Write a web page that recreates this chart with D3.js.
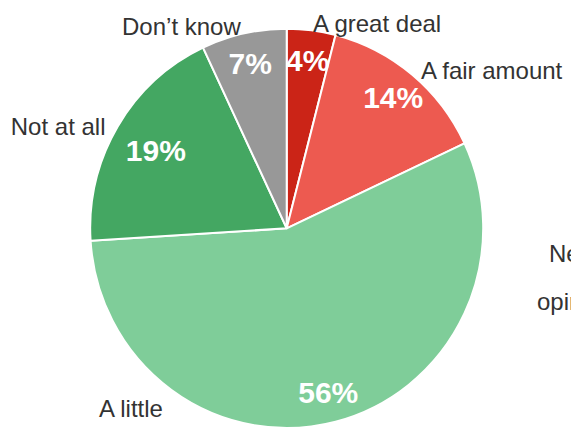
<!DOCTYPE html>
<html>
<head>
<meta charset="utf-8">
<script src="https://cdn.jsdelivr.net/npm/d3@7"></script>
<style>
  html, body { margin: 0; padding: 0; background: #fff; overflow: hidden; }
  svg { display: block; font-family: "Liberation Sans", Arial, Helvetica, sans-serif; }
</style>
</head>
<body>
<svg id="chart" width="571" height="430"></svg>
<script>
// Survey answers, clockwise from 12 o'clock
const categories = ["A great deal", "A fair amount", "A little", "Not at all", "Don\u2019t know"];
const shares = [4, 14, 56, 19, 7];
const colors = ["#cb2417", "#ed5a50", "#7fcd99", "#44a762", "#989898"];

// Side caption lines (continue past the right edge)
const captionLines = ["Net", "opinion"];

const width = 571, height = 430;
const cx = 286.7, cy = 228.3;
const R = 196.5;
const yStretch = 1.016;

const svg = d3.select("#chart");

const data = categories.map((c, i) => ({ label: c, value: shares[i], color: colors[i] }));

const pie = d3.pie().value(d => d.value).sort(null);
const arcs = pie(data);

const arc = d3.arc().innerRadius(0).outerRadius(R);

// slices
const slices = svg.append("g")
  .attr("transform", `translate(${cx},${cy}) scale(1,${yStretch})`);

slices.selectAll("path")
  .data(arcs)
  .join("path")
  .attr("d", arc)
  .attr("fill", d => d.data.color)
  .attr("stroke", "#fff")
  .attr("stroke-width", 2)
  .attr("stroke-linejoin", "round");

// point on the pie at a given angle (radians, clockwise from top) and radius
function polar(angle, r) {
  return [cx + r * Math.sin(angle), cy - r * Math.cos(angle) * yStretch];
}

// percentage labels inside the slices
const pctRadius = { "Not at all": 152 };
svg.append("g").selectAll("text")
  .data(arcs)
  .join("text")
  .attr("transform", d => {
    const a = (d.startAngle + d.endAngle) / 2;
    const [x, y] = polar(a, pctRadius[d.data.label] || 167);
    return `translate(${x},${y})`;
  })
  .attr("text-anchor", "middle")
  .attr("dy", "0.36em")
  .attr("fill", "#fff")
  .attr("font-weight", "bold")
  .attr("font-size", 30)
  .text(d => d.data.value + "%");

// category labels outside the pie
const angleOverride = { "A little": 216 * Math.PI / 180 };
svg.append("g").selectAll("text")
  .data(arcs)
  .join("text")
  .each(function (d) {
    const a = angleOverride[d.data.label] !== undefined
      ? angleOverride[d.data.label]
      : (d.startAngle + d.endAngle) / 2;
    const [x, y] = polar(a, R + 14);
    const right = Math.sin(a) >= 0;
    d3.select(this)
      .attr("x", x)
      .attr("y", y + 15.5)
      .attr("text-anchor", right ? "start" : "end");
  })
  .attr("fill", "#333")
  .attr("font-size", 24)
  .text(d => d.data.label);

// caption on the right
svg.append("g").selectAll("text")
  .data(captionLines)
  .join("text")
  .attr("x", (d, i) => i === 0 ? 549 : 537)
  .attr("y", (d, i) => i === 0 ? 262 : 310)
  .attr("fill", "#333")
  .attr("font-size", 24)
  .text(d => d);
</script>
</body>
</html>
